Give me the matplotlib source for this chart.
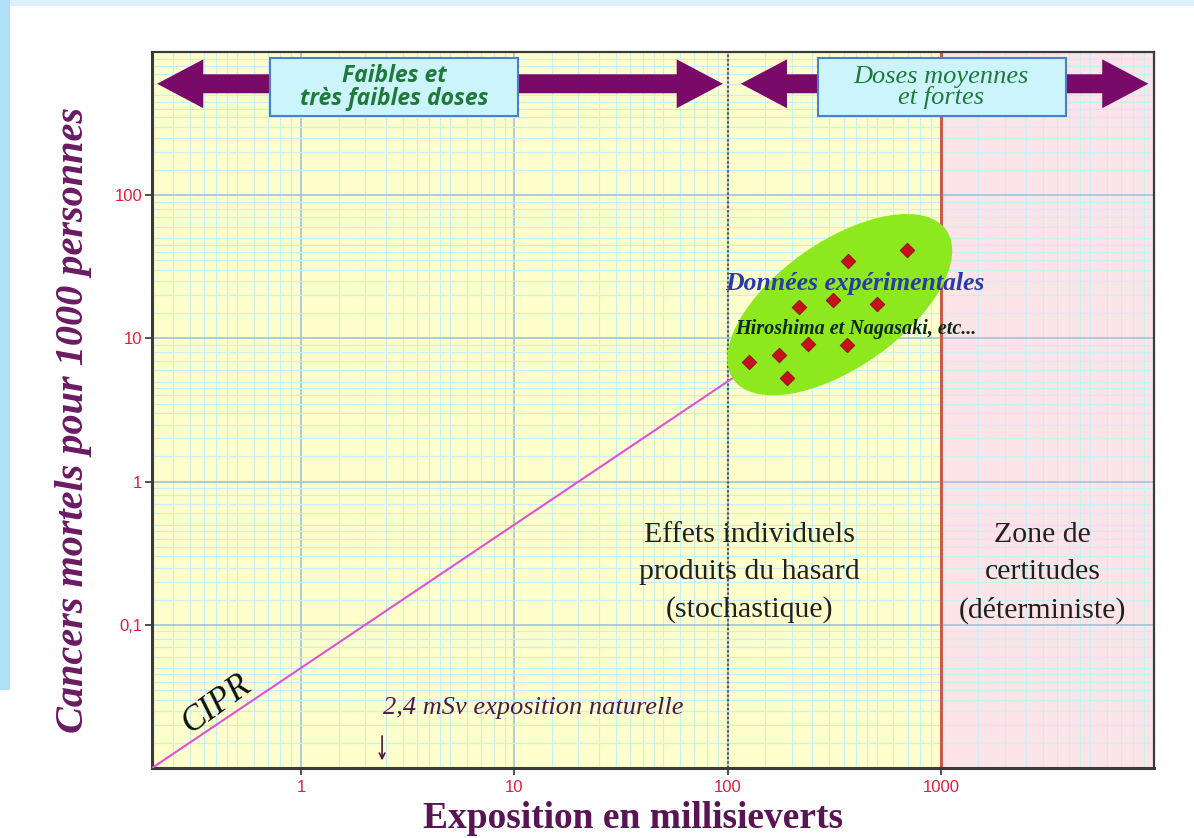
"""Modèle CIPR : cancers mortels en fonction de l'exposition (mSv), échelle log-log"""
import matplotlib.pyplot as plt
import matplotlib.transforms as mtransforms
from matplotlib.patches import Ellipse, FancyArrowPatch, Rectangle
from matplotlib.ticker import FixedLocator, LogLocator, NullFormatter

plt.rcParams["font.family"] = ["Liberation Serif", "DejaVu Serif"]

# couleurs
COLOR_YELLOW = "#ffffcc"
COLOR_PINK = "#fde4e8"
COLOR_GRID_MAJOR = "#9fc3dc"
COLOR_GRID_MINOR = "#c8f0f2"
COLOR_TICK = "#e0203a"
COLOR_PURPLE = "#7a0a6a"
COLOR_LABEL = "#5a1455"
COLOR_BOX = "#ccf4fc"
COLOR_BOX_EDGE = "#4a7fd0"
COLOR_BOX_TEXT = "#1f7a3a"
COLOR_ELLIPSE = "#8ee81e"
COLOR_POINTS = "#c8101a"

# données
x_ticks = [1, 10, 100, 1000]
x_ticklabels = ["1", "10", "100", "1000"]
y_ticks = [0.1, 1, 10, 100]
y_ticklabels = ["0,1", "1", "10", "100"]

cipr_dose = [0.2, 130]          # mSv
cipr_risk = [0.01, 6.5]         # cancers pour 1000 personnes (5 % par Sv)

exp_dose = [691, 368, 313, 216, 500, 238, 362, 175, 126, 191]
exp_risk = [41.4, 34.7, 18.5, 16.7, 17.3, 9.2, 9.0, 7.6, 6.8, 5.25]

natural_dose = 2.4

fig = plt.figure(figsize=(11.94, 8.38), dpi=100)
fig.patch.set_facecolor("white")

# bandes bleues du fond de diapositive
fig.patches.append(Rectangle((0, 1 - 6 / 838), 1, 6 / 838, transform=fig.transFigure,
                             facecolor="#dcf1fb", edgecolor="none", zorder=0))
fig.patches.append(Rectangle((0, 1 - 690 / 838), 10 / 1194, 690 / 838, transform=fig.transFigure,
                             facecolor="#b2e0f6", edgecolor="none", zorder=0))

ax = fig.add_axes([152 / 1194, 1 - 768 / 838, (1154 - 152) / 1194, (768 - 52) / 838])
ax.set_xscale("log")
ax.set_yscale("log")
ax.set_xlim(0.2, 10000)
ax.set_ylim(0.01, 1000)

# zones de fond
ax.axvspan(0.2, 1000, color=COLOR_YELLOW, zorder=0, lw=0)
ax.axvspan(1000, 10000, color=COLOR_PINK, zorder=0, lw=0)

# grille
minor_subs = [1.5, 2, 2.5, 3, 3.5, 4, 4.5, 5, 6, 7, 8, 9]
ax.xaxis.set_major_locator(FixedLocator(x_ticks))
ax.yaxis.set_major_locator(FixedLocator(y_ticks))
ax.xaxis.set_minor_locator(LogLocator(base=10, subs=minor_subs, numticks=20))
ax.yaxis.set_minor_locator(LogLocator(base=10, subs=minor_subs, numticks=20))
ax.xaxis.set_minor_formatter(NullFormatter())
ax.yaxis.set_minor_formatter(NullFormatter())
ax.set_xticklabels(x_ticklabels)
ax.set_yticklabels(y_ticklabels)
ax.grid(which="minor", color=COLOR_GRID_MINOR, linewidth=0.9, zorder=1)
ax.grid(which="major", color=COLOR_GRID_MAJOR, linewidth=1.2, zorder=1)
for v in [0.01, 1000]:
    ax.axhline(v, color=COLOR_GRID_MAJOR, lw=1.2, zorder=1)
ax.axvline(10000, color=COLOR_GRID_MAJOR, lw=1.2, zorder=1)
ax.set_axisbelow(True)

ax.tick_params(which="minor", length=0)
ax.tick_params(which="major", length=5, width=1.2, color="#333333",
               labelcolor=COLOR_TICK, labelsize=12, direction="out")
ax.tick_params(axis="y", pad=2)
for lab in ax.get_xticklabels() + ax.get_yticklabels():
    lab.set_family(["Liberation Sans", "DejaVu Sans"])

for side in ["left", "bottom"]:
    ax.spines[side].set_linewidth(2.2)
    ax.spines[side].set_color("#3a3a3a")
for side in ["top", "right"]:
    ax.spines[side].set_linewidth(1.6)
    ax.spines[side].set_color("#3a3a3a")

# limites de zones
ax.axvline(100, color="#4f5f55", lw=1.6, ls=(0, (1, 1)), zorder=2)
ax.axvline(1000, color="#cc5a48", lw=2.2, zorder=2)

# droite CIPR
ax.plot(cipr_dose, cipr_risk, color="#e050d8", lw=1.5, zorder=3)

# ellipse des données expérimentales (taille en pouces, centrée sur un point de données)
ell_trans = fig.dpi_scale_trans + mtransforms.ScaledTranslation(336, 17.2, ax.transData)
ax.add_patch(Ellipse((0, 0), 2.6, 1.26, angle=35, transform=ell_trans,
                     facecolor=COLOR_ELLIPSE, edgecolor="none", zorder=4))
ax.scatter(exp_dose, exp_risk, marker="D", s=55, color=COLOR_POINTS,
           edgecolors="#8a0a10", linewidths=0.6, zorder=5)

ax.text(97, 24, "Données expérimentales", color="#2a3aa8", fontsize=18.5,
        fontweight="bold", fontstyle="italic", va="center", ha="left", zorder=6)
ax.text(108, 11.6, "Hiroshima et Nagasaki, etc...", color="#0c2a0c", fontsize=14.5,
        fontweight="bold", fontstyle="italic", va="center", ha="left", zorder=6)

# flèches doubles du haut
arrow_y = 600
for x0, x1 in [(2.73, 0.205), (2.73, 98), (1000, 112), (1000, 9700)]:
    ax.add_patch(FancyArrowPatch((x0, arrow_y), (x1, arrow_y),
                                 arrowstyle="simple,head_length=1.75,head_width=1.85,tail_width=0.72",
                                 mutation_scale=19, color=COLOR_PURPLE, lw=0, zorder=6))

ax.add_patch(Rectangle((0.716, 355), 10.4 - 0.716, 915 - 355, facecolor=COLOR_BOX,
                       edgecolor=COLOR_BOX_EDGE, lw=1.5, zorder=7))
ax.add_patch(Rectangle((265, 355), 3850 - 265, 915 - 355, facecolor=COLOR_BOX,
                       edgecolor=COLOR_BOX_EDGE, lw=1.5, zorder=7))
ax.text(2.73, 565, "Faibles et\ntrès faibles doses", color=COLOR_BOX_TEXT, fontsize=16.5,
        family=["Open Sans", "DejaVu Sans"], fontweight="bold", fontstyle="italic",
        ha="center", va="center", linespacing=0.95, zorder=8)
ax.text(1000, 565, "Doses moyennes\net fortes", color=COLOR_BOX_TEXT, fontsize=19,
        fontstyle="italic", ha="center", va="center", linespacing=0.92, zorder=8)

# textes des zones
ax.text(127, 0.231, "Effets individuels\nproduits du hasard\n(stochastique)", color="#202020",
        fontsize=21.5, ha="center", va="center", linespacing=1.55, zorder=6)
ax.text(3000, 0.231, "Zone de\ncertitudes\n(déterministe)", color="#202020",
        fontsize=21.5, ha="center", va="center", linespacing=1.55, zorder=6)

ax.text(0.4, 0.028, "CIPR", color="#101010", fontsize=25, fontstyle="italic",
        rotation=36, ha="center", va="center", zorder=6)

# exposition naturelle
ax.text(2.42, 0.0263, "2,4 mSv exposition naturelle", color="#4a1a45", fontsize=19,
        fontstyle="italic", ha="left", va="center", zorder=6)
ax.annotate("", xy=(natural_dose, 0.0108), xytext=(natural_dose, 0.0175),
            arrowprops=dict(arrowstyle="->", color="#4a1a45", lw=1.2), zorder=6)

ax.set_xlabel("Exposition en millisieverts", fontsize=27, fontweight="bold",
              color=COLOR_LABEL)
ax.xaxis.set_label_coords((633 - 152) / 1002, -(818 - 768) / 716)
ax.xaxis.label.set_va("center")
ax.set_ylabel("Cancers mortels pour 1000 personnes", fontsize=29, fontstyle="italic",
              fontweight="bold", color="#6a1a62")
ax.yaxis.set_label_coords(-(152 - 74) / 1002, (768 - 420) / 716)
ax.yaxis.label.set_va("center")

fig.savefig("out.png", dpi=100)
plt.close(fig)
